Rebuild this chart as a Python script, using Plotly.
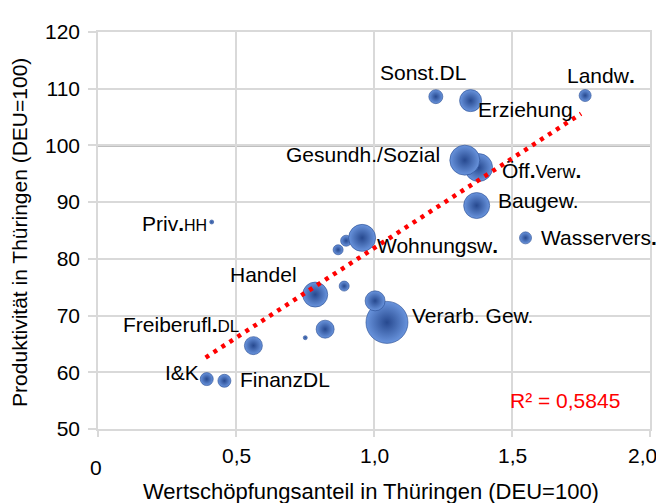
import plotly.graph_objects as go

# ---------------- data ----------------
sectors = ["Landw.", "Sonst.DL", "Erziehung", "Öff.Verw.", "Gesundh./Sozial", "Baugew.",
           "Wasservers.", "Sektor A", "Sektor B", "Wohnungsw.", "Handel", "Sektor C",
           "Verarb. Gew.", "Sektor D", "Sektor E", "Sektor F", "Freiberufl.DL", "I&K",
           "FinanzDL", "Priv.HH"]
wertschoepfungsanteil = [1.765, 1.224, 1.350, 1.379, 1.329, 1.372,
                         1.549, 0.899, 0.870, 0.957, 0.787, 0.892,
                         1.047, 1.004, 0.823, 0.751, 0.563, 0.394,
                         0.458, 0.412]
produktivitaet = [108.8, 108.6, 107.9, 96.1, 97.4, 89.4,
                  83.7, 83.2, 81.6, 83.7, 73.7, 75.2,
                  68.8, 72.6, 67.6, 66.1, 64.7, 58.8,
                  58.5, 86.5]
gewicht = [12, 14, 22, 28, 30, 26,
           12, 11, 10, 27, 25, 10,
           42, 20, 18, 4, 18, 13,
           13, 4]

trend_x = [0.39, 1.75]
trend_y = [62.6, 105.6]
r_squared = "0,5845"

x_tickvals = [0, 0.5, 1.0, 1.5, 2.0]
x_ticktext = ["0", "0,5", "1,0", "1,5", "2,0"]
y_tickvals = [50, 60, 70, 80, 90, 100, 110, 120]

# label text and pixel offset from the bubble
label_style = {
    "Landw.": ("Landw<b>.</b>", 16, 20),
    "Sonst.DL": ("Sonst.DL", -13, 24),
    "Erziehung": ("Erziehung", 55, -9),
    "Gesundh./Sozial": ("Gesundh./Sozial", -102, 6),
    "Öff.Verw.": ("Öff<b>.</b><span style='font-size:18px'>Verw</span><b>.</b>", 63, -3),
    "Baugew.": ("Baugew.", 62, 5),
    "Wasservers.": ("Wasservers<b>.</b>", 73, 0),
    "Priv.HH": ("Priv<b>.</b><span style='font-size:16px'>HH</span>", -37, -2),
    "Wohnungsw.": ("Wohnungsw<b>.</b>", 75, -8),
    "Handel": ("Handel", -52, 20),
    "Verarb. Gew.": ("Verarb. Gew.", 86, 7),
    "Freiberufl.DL": ("Freiberufl<b>.</b><span style='font-size:17px'>DL</span>", -72, 21),
    "I&K": ("I&amp;K", -25, 7),
    "FinanzDL": ("FinanzDL", 61, 1),
}

FONT = "Liberation Sans, Arial, sans-serif"
GRID = "#d9d9d9"
LBL = 21

fig = go.Figure()

fig.add_trace(go.Scatter(
    x=wertschoepfungsanteil, y=produktivitaet, mode="markers",
    text=sectors, hoverinfo="text+x+y",
    marker=dict(size=gewicht, sizemode="diameter", color="#6994dd",
                gradient=dict(type="radial", color="#27498f"),
                line=dict(width=0.6, color="#27498f"), opacity=1),
))

fig.add_trace(go.Scatter(
    x=trend_x, y=trend_y, mode="lines",
    line=dict(color="#ff0000", width=4.5, dash="4px,5.5px"),
    hoverinfo="skip",
))

annotations = []
for name, xv, yv in zip(sectors, wertschoepfungsanteil, produktivitaet):
    if name in label_style:
        txt, dx, dy = label_style[name]
        annotations.append(dict(x=xv, y=yv, xref="x", yref="y", text=txt, showarrow=False,
                                xanchor="center", yanchor="middle", xshift=dx, yshift=dy,
                                font=dict(family=FONT, size=LBL, color="#000")))

annotations.append(dict(x=1.693, y=55.0, xref="x", yref="y", text="R² = " + r_squared,
                        showarrow=False, xanchor="center", yanchor="middle",
                        font=dict(family=FONT, size=LBL, color="#ff0000")))

# x tick labels (first one sits lower, last one pulled in to fit, as in the original)
tick_shift = {0: (-2, -38), 4: (-8, -26)}
for i, (tv, tt) in enumerate(zip(x_tickvals, x_ticktext)):
    dx, dy = tick_shift.get(i, (0, -26))
    annotations.append(dict(x=tv, y=0, xref="x", yref="paper", text=tt, showarrow=False,
                            xanchor="center", yanchor="middle", xshift=dx, yshift=dy,
                            font=dict(family=FONT, size=21, color="#000")))

# axis titles
annotations.append(dict(x=0.495, y=0, xref="paper", yref="paper",
                        text="Wertschöpfungsanteil in Thüringen (DEU=100)", showarrow=False,
                        xanchor="center", yanchor="middle", yshift=-62,
                        font=dict(family=FONT, size=22, color="#000")))
annotations.append(dict(x=0, y=0.494, xref="paper", yref="paper",
                        text="Produktivität in Thüringen (DEU=100)", showarrow=False,
                        textangle=-90, xanchor="center", yanchor="middle", xshift=-78,
                        font=dict(family=FONT, size=21, color="#000")))

# page body has an 8px default margin -> figure is 8px smaller than the window
fig.update_layout(
    width=656, height=495,
    margin=dict(l=90, r=12, t=16, b=74),
    plot_bgcolor="white", paper_bgcolor="white",
    showlegend=False,
    font=dict(family=FONT, size=21, color="#000"),
    annotations=annotations,
    shapes=[
        dict(type="line", xref="x", yref="paper", x0=1.0, x1=1.0, y0=0, y1=1,
             line=dict(color="#000", width=1.5), layer="below"),
        dict(type="line", xref="paper", yref="y", x0=0, x1=1, y0=100, y1=100,
             line=dict(color="#000", width=1.5), layer="below"),
    ],
    xaxis=dict(range=[0, 2], tickvals=x_tickvals, showticklabels=False,
               showgrid=True, gridcolor=GRID, gridwidth=1.5, zeroline=False,
               showline=True, linecolor=GRID, linewidth=1.5, mirror=True,
               ticks="outside", tickcolor=GRID, ticklen=6, tickwidth=1.5),
    yaxis=dict(range=[50, 120], tickvals=y_tickvals,
               showgrid=True, gridcolor=GRID, gridwidth=1.5, zeroline=False,
               showline=True, linecolor=GRID, linewidth=1.5, mirror=True,
               ticks="outside", tickcolor=GRID, ticklen=8, tickwidth=1.5,
               ticklabelstandoff=4, tickfont=dict(family=FONT, size=21)),
)

fig.write_html("out.html")
